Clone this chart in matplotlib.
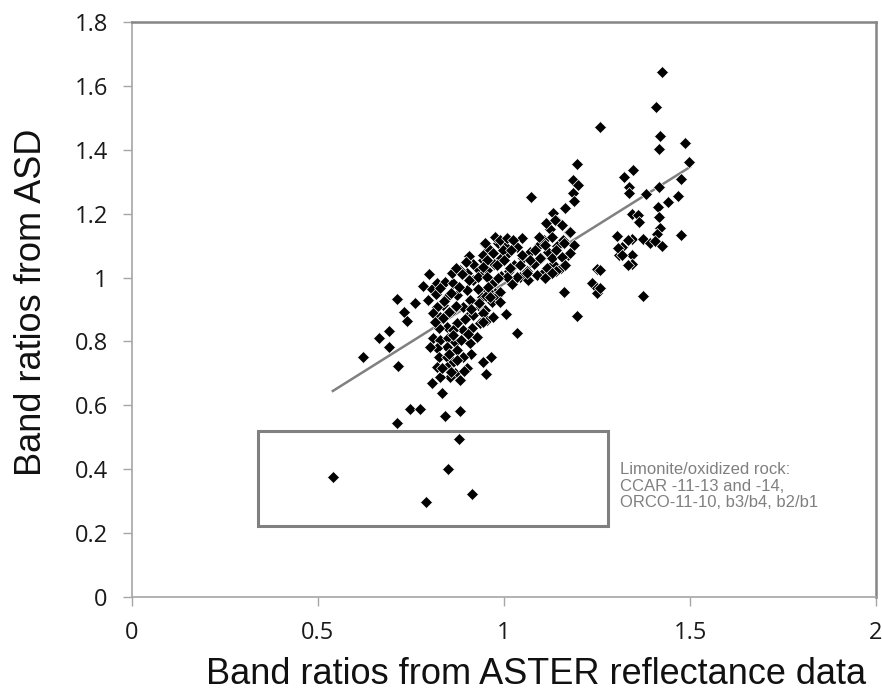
import matplotlib
matplotlib.use("Agg")
import matplotlib.pyplot as plt
from matplotlib.patches import Rectangle

# ---- data ----
aster_ratio = [
    # limonite box and nearby
    0.54, 0.79, 0.849, 0.914, 0.878, 0.712, 0.747, 0.774, 0.841, 0.882,
    # left part of main cloud
    0.712, 0.731, 0.739, 0.761, 0.664, 0.691, 0.691, 0.621, 0.715, 0.798,
    0.782, 0.806, 0.906, 0.949, 0.944, 0.806, 0.833, 0.965, 0.944, 0.952,
    0.911, 0.901,
    # dense cloud
    0.819, 0.841, 0.864, 0.846, 0.873, 0.900, 0.918, 0.940, 0.962, 0.976,
    0.967, 0.940, 0.909, 0.891, 0.864, 0.837, 0.819, 0.810, 0.828, 0.846,
    0.873, 0.900, 0.918, 0.935, 0.949, 0.913, 0.891, 0.864, 0.824, 0.810,
    0.828, 0.850, 0.868, 0.846, 0.819, 0.801, 0.824, 0.846, 0.873, 0.891,
    0.864, 0.846, 0.819, 0.868, 0.882, 0.855, 0.828, 0.927, 0.909, 0.935,
    0.954, 0.971, 0.954, 0.980, 0.927, 0.900, 0.882, 0.859,
    0.931, 0.953, 0.972, 0.993, 1.012, 1.034, 0.918, 0.944, 0.961, 0.984,
    1.003, 0.968, 0.991, 1.014, 1.027, 1.052, 1.071, 1.093, 1.108, 0.958,
    0.981, 0.929, 0.907, 0.888, 0.871, 0.897, 0.879, 0.858, 0.839, 0.817,
    0.796, 0.828, 0.853, 0.872, 0.894, 0.912, 0.933, 0.951, 0.862, 0.884,
    0.903, 0.836, 0.815, 0.851, 0.874, 0.832, 0.858, 0.893,
    1.042, 1.063, 1.081, 1.099, 1.118, 1.142, 1.158, 1.176, 1.064, 1.101,
    1.133, 1.171, 1.021, 1.152, 1.188, 1.123, 1.139,
    # centre-right cloud
    1.195, 1.186, 1.198, 1.185, 1.189, 1.072, 1.164, 1.131, 1.113, 1.137,
    1.155, 1.177, 1.048, 1.095, 1.128, 1.160, 1.110, 1.083, 1.141, 1.177,
    1.048, 1.070, 1.097, 1.128, 1.155, 1.164, 1.043, 1.016, 1.115, 1.141,
    1.061, 1.088, 1.034, 1.128, 1.110, 1.007, 0.985, 0.953, 0.958, 0.989,
    0.962, 0.989, 1.005, 0.944, 0.944, 1.036, 1.160, 1.195, 1.249, 1.236,
    1.249, 1.249, 0.949, 0.976, 0.989, 1.007, 1.025, 0.971, 0.998, 1.020,
    0.953, 0.980, 1.000, 0.944,
    # right group
    1.426, 1.409, 1.419, 1.418, 1.487, 1.498, 1.348, 1.323, 1.337, 1.337,
    1.383, 1.418, 1.475, 1.469, 1.442, 1.413, 1.418, 1.343, 1.361, 1.364,
    1.419, 1.412, 1.303, 1.343, 1.373, 1.392, 1.406, 1.426, 1.475, 1.316,
    1.310, 1.343, 1.343, 1.373, 1.258, 1.258, 1.258, 1.303, 1.334, 1.306,
    1.316, 1.334,
]
asd_ratio = [
    0.377, 0.296, 0.400, 0.323, 0.495, 0.545, 0.588, 0.588, 0.567, 0.582,
    0.933, 0.892, 0.864, 0.920, 0.811, 0.833, 0.783, 0.751, 0.723, 1.011,
    0.974, 0.964, 1.068, 1.105, 1.055, 0.670, 0.639, 0.751, 0.736, 0.698,
    0.761, 0.717,
    0.982, 0.987, 0.982, 0.940, 0.946, 0.961, 0.992, 1.019, 0.992, 0.951,
    0.925, 0.940, 0.930, 0.909, 0.899, 0.914, 0.909, 0.888, 0.878, 0.846,
    0.857, 0.878, 0.883, 0.909, 0.899, 0.841, 0.836, 0.836, 0.841, 0.810,
    0.805, 0.810, 0.799, 0.784, 0.779, 0.784, 0.752, 0.752, 0.773, 0.752,
    0.737, 0.721, 0.721, 0.700, 0.679, 0.690, 0.690, 0.815, 0.794, 0.857,
    0.867, 0.878, 1.081, 1.050, 1.029, 1.013, 1.024, 1.013,
    1.003, 1.024, 1.041, 1.062, 1.078, 1.097, 1.043, 1.072, 1.088, 1.109,
    1.098, 0.979, 1.004, 1.019, 1.038, 1.061, 1.079, 1.102, 1.117, 0.958,
    0.942, 0.963, 0.991, 1.012, 1.031, 1.049, 0.972, 0.951, 0.928, 0.949,
    0.931, 0.968, 0.893, 0.912, 0.869, 0.902, 0.921, 0.943, 0.821, 0.803,
    0.822, 0.872, 0.861, 0.762, 0.741, 0.718, 0.703, 0.709,
    1.002, 1.021, 1.043, 1.062, 1.081, 1.099, 1.118, 1.142, 0.991, 1.012,
    1.041, 1.072, 0.981, 1.031, 1.101, 1.152, 1.181,
    1.356, 1.306, 1.290, 1.264, 1.241, 1.253, 1.217, 1.203, 1.172, 1.181,
    1.165, 1.144, 1.123, 1.126, 1.126, 1.107, 1.102, 1.086, 1.086, 1.076,
    1.071, 1.055, 1.060, 1.060, 1.065, 1.039, 1.039, 1.029, 1.029, 1.019,
    1.013, 1.008, 1.003, 1.013, 0.998, 1.003, 0.998, 1.003, 0.972, 0.956,
    0.940, 0.925, 0.886, 0.888, 0.862, 0.828, 0.956, 0.881, 1.026, 0.982,
    0.966, 0.951, 1.107, 1.128, 1.118, 1.123, 1.118, 1.076, 1.086, 1.086,
    1.055, 1.039, 1.055, 1.034,
    1.642, 1.535, 1.444, 1.403, 1.420, 1.361, 1.337, 1.316, 1.283, 1.266,
    1.262, 1.285, 1.308, 1.256, 1.235, 1.221, 1.191, 1.199, 1.196, 1.175,
    1.154, 1.136, 1.131, 1.120, 1.120, 1.109, 1.116, 1.099, 1.133, 1.095,
    1.071, 1.071, 1.042, 0.943, 1.472, 1.024, 0.967, 1.130, 1.118, 1.092,
    1.071, 1.039,
]

trend_x = [0.54, 1.50]
trend_y = [0.645, 1.346]

box_x = [0.339, 1.280]
box_y = [0.222, 0.520]

x_ticks = [0, 0.5, 1, 1.5, 2]
x_tick_labels = ["0", "0.5", "1", "1.5", "2"]
y_ticks = [0, 0.2, 0.4, 0.6, 0.8, 1.0, 1.2, 1.4, 1.6, 1.8]
y_tick_labels = ["0", "0.2", "0.4", "0.6", "0.8", "1", "1.2", "1.4", "1.6", "1.8"]

x_title = "Band ratios from ASTER reflectance data"
y_title = "Band ratios from ASD"
note = "Limonite/oxidized rock:\nCCAR -11-13 and -14,\nORCO-11-10, b3/b4, b2/b1"

# ---- figure ----
W, H = 882, 691
fig = plt.figure(figsize=(W / 100, H / 100), dpi=100)
ax = fig.add_axes([132 / W, 1 - 597 / H, (876 - 132) / W, (597 - 22) / H])

ax.set_xlim(0, 2)
ax.set_ylim(0, 1.8)

ax.plot(trend_x, trend_y, color="#808080", lw=1.8, zorder=2)
ax.plot(aster_ratio, asd_ratio, linestyle="none", marker="D", markersize=6.3,
        markerfacecolor="black", markeredgecolor="white", markeredgewidth=0.5,
        zorder=3)

ax.add_patch(Rectangle((box_x[0], box_y[0]), box_x[1] - box_x[0], box_y[1] - box_y[0],
                       fill=False, edgecolor="#808080", lw=2.2, zorder=4))

ax.text(1.312, 0.347, note, fontsize=12, color="#808080", family="Liberation Sans",
        ha="left", va="center", linespacing=1.15)

ax.set_xticks(x_ticks)
ax.set_xticklabels(x_tick_labels)
ax.set_yticks(y_ticks)
ax.set_yticklabels(y_tick_labels)

for lab in ax.get_xticklabels() + ax.get_yticklabels():
    lab.set_fontfamily("Open Sans")
    lab.set_fontsize(17)
    lab.set_color("#1a1a1a")

ax.tick_params(axis="both", direction="out", length=6.5, width=1.0, color="#a6a6a6")
ax.tick_params(axis="x", pad=11)
ax.tick_params(axis="y", pad=11)

for side in ["left", "bottom"]:
    ax.spines[side].set_color("#a6a6a6")
    ax.spines[side].set_linewidth(1.2)
for side in ["top", "right"]:
    ax.spines[side].set_color("#858585")
    ax.spines[side].set_linewidth(1.8)

fig.text(536 / W, 1 - 675 / H, x_title, fontsize=26, family="Liberation Sans",
         ha="center", va="center", color="#111111")
fig.text(32 / W, 1 - 302 / H, y_title, fontsize=26, family="Liberation Sans",
         ha="center", va="center", rotation=90, color="#111111")

fig.savefig("out.png", dpi=100)
